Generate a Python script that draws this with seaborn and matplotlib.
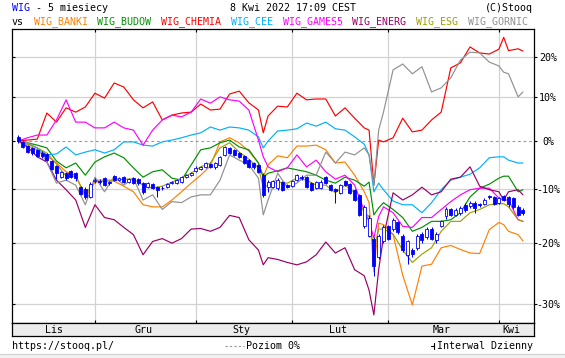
import numpy as np
import pandas as pd
import matplotlib
matplotlib.use("Agg")
import matplotlib.pyplot as plt
import matplotlib.lines as mlines
from matplotlib.patches import Rectangle
import seaborn as sns

# ---------------- data ----------------
title_main = "WIG"
title_rest = " - 5 miesiecy"
stamp = "8 Kwi 2022 17:09 CEST"
credit = "(C)Stooq"
footer_left = "https://stooq.pl/"
footer_mid = "Poziom 0%"
footer_right = "Interwal Dzienny"

series_names = ["WIG_BANKI", "WIG_BUDOW", "WIG_CHEMIA", "WIG_CEE",
                "WIG_GAMES5", "WIG_ENERG", "WIG_ESG", "WIG_GORNIC"]
series_colors = ["#FF8000", "#009000", "#FF0000", "#00B0FF",
                 "#FF00FF", "#990066", "#A0A000", "#909090"]
wig_color = "#0000FF"

first_day = "2021-11-08"
last_day = "2022-04-08"
holidays = ["2021-11-11", "2021-12-24", "2021-12-31", "2022-01-06"]
month_labels = ["Lis", "Gru", "Sty", "Lut", "Mar", "Kwi"]

y_ticks = [-30, -20, -10, 0, 10, 20]
y_tick_labels = ["-30%", "-20%", "-10%", "0%", "10%", "20%"]
y_range = [-32.8, 27.7]

# WIG daily candles (percent vs first close)
wig_open = [
    0.9, -0.2, -1.1, -1.5, -2.0, -2.6, -2.8, -4.3, -5.3, -7.6,
    -6.8, -6.3, -6.8, -9.6, -9.9, -11.5, -8.4, -8.4, -7.8, -8.6,
    -7.4, -8.2, -7.6, -8.6, -7.8, -8.0, -8.8, -9.6, -9.0, -9.6,
    -9.7, -9.6, -8.8, -8.8, -8.6, -7.6, -7.2, -6.3, -5.9, -5.5,
    -4.9, -5.5, -5.1, -3.0, -1.5, -2.0, -2.6, -3.2, -4.1, -4.7,
    -5.1, -7.2, -9.6, -9.6, -9.8, -8.6, -9.2, -9.4, -8.2, -7.6,
    -7.6, -8.8, -9.8, -9.8, -7.6, -9.2, -10.0, -10.7, -8.4, -9.0,
    -10.1, -11.1, -17.0, -18.7, -19.2, -22.4, -19.7, -17.0, -17.5, -16.3,
    -18.7, -22.1, -21.2, -20.9, -18.4, -18.9, -17.5, -19.5, -17.0, -15.2,
    -13.8, -14.9, -14.5, -13.0, -13.2, -12.6, -12.9, -12.8, -11.4, -11.5,
    -12.6, -11.3, -11.5, -11.7, -13.4, -13.9]
wig_close = [
    0.0, -1.3, -2.4, -2.6, -3.2, -3.2, -4.1, -5.9, -6.8, -6.5,
    -7.8, -7.6, -7.8, -10.9, -11.5, -9.0, -8.2, -8.6, -9.2, -8.8,
    -8.2, -7.8, -8.6, -8.0, -8.8, -8.8, -10.5, -8.8, -9.8, -10.1,
    -9.8, -9.0, -8.6, -8.2, -7.6, -7.2, -6.8, -5.7, -5.5, -4.7,
    -5.5, -4.7, -3.4, -1.3, -2.6, -3.0, -3.4, -4.7, -5.5, -5.5,
    -6.5, -11.1, -8.6, -8.4, -8.2, -10.1, -9.6, -8.4, -7.2, -7.8,
    -9.6, -10.1, -8.6, -8.6, -8.8, -10.1, -10.3, -9.2, -9.2, -10.7,
    -12.1, -14.9, -13.4, -15.4, -23.9, -18.7, -17.2, -19.2, -15.8, -18.0,
    -21.2, -19.7, -21.9, -18.7, -19.5, -17.5, -19.2, -18.4, -16.1, -13.8,
    -14.9, -13.9, -13.6, -13.9, -12.6, -13.6, -13.1, -12.1, -11.6, -12.8,
    -11.7, -12.1, -12.8, -13.4, -14.9, -14.5]
wig_high = [
    1.3, 0.0, -0.9, -1.3, -1.7, -2.2, -2.6, -4.1, -5.1, -6.3,
    -6.5, -6.1, -6.5, -9.4, -9.6, -8.6, -7.8, -8.0, -7.6, -8.4,
    -7.2, -7.6, -7.4, -7.8, -7.6, -7.8, -8.6, -8.6, -8.8, -9.4,
    -9.4, -8.8, -8.4, -8.0, -7.4, -6.9, -6.5, -5.3, -5.3, -4.5,
    -4.7, -4.5, -3.2, -1.1, -1.3, -1.7, -2.4, -3.0, -3.9, -4.5,
    -4.9, -6.8, -8.2, -8.2, -7.8, -8.4, -9.0, -8.2, -6.9, -7.2,
    -7.4, -8.6, -8.4, -8.2, -7.4, -9.0, -9.8, -9.0, -8.2, -8.8,
    -9.9, -10.9, -13.0, -15.0, -18.9, -18.4, -16.8, -16.8, -15.4, -16.0,
    -18.4, -19.4, -20.9, -18.4, -18.0, -17.2, -17.2, -18.0, -15.8, -13.4,
    -13.6, -13.6, -13.2, -12.6, -12.3, -12.3, -12.6, -11.7, -11.1, -11.3,
    -11.5, -11.1, -11.3, -11.5, -13.0, -13.6]
wig_low = [
    -0.4, -1.5, -2.6, -3.0, -3.4, -3.6, -4.3, -6.1, -8.0, -7.8,
    -8.2, -7.8, -8.4, -11.1, -11.9, -11.7, -8.8, -9.0, -9.4, -9.2,
    -8.4, -8.4, -8.8, -8.8, -9.0, -9.2, -10.9, -9.8, -10.0, -11.5,
    -10.1, -9.8, -9.0, -9.0, -8.8, -7.8, -7.4, -6.5, -6.1, -5.7,
    -5.7, -5.9, -5.3, -3.2, -2.8, -3.2, -3.6, -4.9, -5.7, -5.9,
    -6.8, -11.5, -10.5, -9.8, -10.1, -10.3, -9.8, -9.6, -8.4, -8.2,
    -9.8, -10.3, -10.0, -10.0, -9.0, -10.3, -12.6, -10.9, -9.4, -10.9,
    -12.3, -15.2, -17.3, -19.0, -25.6, -22.7, -20.0, -19.5, -17.9, -18.4,
    -21.5, -23.5, -22.4, -21.2, -19.9, -19.2, -19.5, -19.9, -17.2, -15.6,
    -15.2, -15.2, -14.9, -14.3, -13.6, -14.5, -13.4, -13.0, -11.9, -13.0,
    -12.8, -12.3, -13.4, -13.8, -15.2, -14.9]

line_idx = (list(range(0, 51, 2)) + [51] + list(range(52, 73, 2)) + [73, 74, 75]
            + list(range(76, 101, 2)) + [101, 102, 104, 105])
banki = [0.0, -1.1, -1.9, -3.2, -4.7, -6.5, -7.2, -11.5, -8.6, -8.4,
         -8.4, -9.4, -10.5, -13.0, -13.4, -13.4, -12.1, -10.5, -8.8, -7.2,
         -5.3, -0.2, 0.7, -0.4, -2.2, -4.7, -7.6, -5.1, -3.2, -3.6, -1.1,
         -1.1, -0.9, -1.9, -4.7, -4.5, -7.2, -10.5, -12.6, -24.8, -16.4, -16.7, -18.5,
         -25.4, -30.1, -23.9, -23.6, -20.8, -20.4, -21.1, -21.7, -21.8, -17.6,
         -16.3, -16.7, -17.9, -18.5, -19.6]
budow = [0.0, -0.4, -0.9, -1.5, -4.3, -5.7, -4.7, -7.2, -4.5, -3.4,
         -2.6, -3.6, -5.7, -7.6, -6.5, -6.1, -7.8, -8.2, -5.1, -1.9,
         -1.5, -0.4, 0.2, -1.3, -1.9, -4.7, -7.6, -6.8, -6.3, -5.7, -6.1,
         -6.5, -7.2, -8.2, -8.8, -7.6, -8.2, -9.4, -8.6, -14.9, -13.6, -12.6, -13.9,
         -15.4, -17.9, -17.2, -16.1, -16.1, -15.8, -14.5, -11.5, -9.8, -9.0,
         -7.8, -7.4, -7.4, -10.5, -10.1]
chemia = [0.0, 0.2, 0.4, 6.3, 4.2, 7.5, 6.5, 7.7, 11.0, 9.8,
          13.5, 12.5, 9.4, 7.5, 8.9, 4.7, 5.8, 6.3, 6.5, 8.4,
          7.0, 7.2, 10.8, 11.5, 8.7, 7.0, 1.8, 5.6, 7.9, 7.7, 11.0,
          9.4, 9.6, 9.6, 5.6, 7.5, 5.1, 2.9, 2.4, -9.2, 0.2, -0.2, 0.7,
          5.1, 2.0, 2.4, 4.7, 6.5, 17.3, 18.6, 22.8, 21.2, 20.9,
          22.2, 25.4, 21.8, 22.3, 21.7]
cee = [0.0, -0.7, -1.5, -3.0, -2.8, -1.3, -3.0, -2.4, -1.9, -2.6,
       -1.9, -0.2, -0.2, -0.9, -1.1, -0.2, 0.2, 0.7, 1.3, 1.8,
       3.1, 2.4, 3.1, 2.9, 2.4, 0.9, -1.5, 0.0, 2.2, 2.4, 2.7,
       4.0, 3.3, 4.2, 2.7, 2.4, 0.9, -0.7, -3.0, -10.5, -8.8, -10.1, -12.3,
       -13.0, -13.0, -14.5, -12.6, -10.1, -8.2, -7.6, -7.0, -5.7, -3.6,
       -3.4, -3.4, -4.1, -4.7, -4.7]
games5 = [0.0, 0.7, 1.3, 1.3, 4.7, 9.4, 4.2, 4.2, 2.9, 2.9,
          4.2, 2.9, 2.4, -0.9, 2.4, 4.7, 5.8, 5.4, 6.5, 9.6,
          8.6, 10.1, 9.4, 9.1, 7.0, 0.2, -3.4, -5.5, -6.5, -5.7, -3.0,
          -5.5, -4.1, -6.5, -8.0, -7.2, -9.2, -14.1, -16.1, -19.1, -15.2, -13.4, -14.5,
          -17.0, -17.2, -15.4, -15.4, -13.9, -12.4, -11.1, -10.1, -9.8, -9.8,
          -11.7, -12.1, -12.1, -15.8, -16.1]
energ = [0.0, -1.3, -3.4, -4.5, -8.2, -10.1, -12.1, -17.2, -13.0, -15.4,
         -15.8, -17.2, -18.5, -22.0, -19.7, -19.2, -20.0, -19.2, -17.5, -17.4,
         -17.9, -17.2, -15.0, -15.4, -19.4, -21.2, -23.7, -22.5, -22.8, -23.3, -23.7,
         -23.2, -22.0, -19.8, -21.7, -20.8, -24.5, -25.5, -27.8, -31.6, -24.5, -18.9, -10.7,
         -12.1, -11.1, -9.6, -11.1, -10.5, -8.0, -7.6, -5.5, -9.4, -10.1,
         -10.5, -12.1, -10.5, -10.1, -11.1]
esg = [0.0, -0.7, -1.5, -2.6, -4.9, -7.4, -7.4, -11.1, -8.2, -8.2,
       -8.2, -8.0, -8.0, -9.2, -9.8, -9.4, -8.6, -7.8, -6.8, -5.5,
       -4.7, -1.5, -0.4, -2.4, -3.9, -5.7, -9.6, -9.2, -8.6, -8.8, -7.8,
       -8.2, -9.2, -9.2, -10.7, -9.2, -10.7, -14.5, -15.2, -21.2, -17.5, -17.5, -18.4,
       -21.2, -23.3, -21.9, -20.8, -17.9, -16.1, -16.1, -14.5, -13.9, -13.0,
       -12.8, -12.8, -13.4, -15.8, -16.1]
gornic = [0.0, -0.4, -1.5, -4.5, -8.8, -8.2, -9.2, -13.0, -7.6, -10.5,
          -7.4, -9.2, -7.8, -12.1, -11.1, -13.9, -12.4, -12.6, -11.5, -11.1,
          -11.1, -8.2, -3.0, -4.1, -5.1, -7.8, -14.9, -12.1, -6.8, -9.6, -8.8,
          -7.2, -7.2, -2.4, -4.7, -2.4, -3.0, -1.5, -3.0, -9.2, 2.4, 6.5, 16.8,
          18.3, 15.8, 17.6, 11.3, 12.3, 14.8, 19.3, 21.4, 21.2, 18.8,
          17.8, 16.2, 15.8, 10.1, 11.3]
series_values = [banki, budow, chemia, cee, games5, energ, esg, gornic]

# ---------------- derived tables ----------------
dates = pd.bdate_range(first_day, last_day)
dates = dates[~dates.isin(pd.to_datetime(holidays))]
n = len(dates)
idx = np.arange(n)
month_starts = [i for i in range(1, n) if dates[i].month != dates[i - 1].month]
bounds = [0] + month_starts + [n]
month_mids = [(bounds[k] + bounds[k + 1] - 1) / 2 for k in range(len(bounds) - 1)]

long_df = pd.concat(
    [pd.DataFrame({"idx": line_idx, "pct": vals, "series": name})
     for name, vals in zip(series_names, series_values)],
    ignore_index=True)
palette = dict(zip(series_names, series_colors))

# ---------------- figure ----------------
sns.set_style("white")
plt.rcParams["font.family"] = ["DejaVu Sans Mono"]
FS = 7.2
W, H = 565, 358
fig = plt.figure(figsize=(W / 100, H / 100), dpi=100)
fig.patch.set_facecolor("white")


def fx(x):
    return x / W


def fy(y):
    return 1 - y / H


ax = fig.add_axes([fx(12), fy(323), (534 - 12) / W, (323 - 29) / H])
strip = fig.add_axes([fx(12), fy(336), (534 - 12) / W, (336 - 323) / H], sharex=ax)

ax.set_yscale("function", functions=(lambda p: np.log1p(np.asarray(p) / 100.0),
                                     lambda v: np.expm1(np.asarray(v)) * 100.0))
ax.set_facecolor("white")

# grid
for v in y_ticks:
    if v != 0:
        ax.axhline(v, color="#d2d2d2", lw=0.9, zorder=0)
for m in month_starts:
    ax.axvline(m, color="#d2d2d2", lw=0.9, zorder=0)
ax.axhline(0, color="#999999", lw=0.8, dashes=(2.5, 2.5), zorder=0.5)

# comparison lines
sns.lineplot(data=long_df, x="idx", y="pct", hue="series", hue_order=series_names,
             palette=palette, linewidth=0.85, legend=False, ax=ax, zorder=2,
             estimator=None)

# WIG candles
o = np.array(wig_open)
c = np.array(wig_close)
up = c >= o
ax.vlines(idx, wig_low, wig_high, color=wig_color, lw=0.75, zorder=3)
ax.bar(idx, c - o, bottom=o, width=0.62,
       color=np.where(up, "white", wig_color), edgecolor=wig_color,
       linewidth=0.6, zorder=4)

ax.set_xlim(-1.25, 107.3)
ax.set_ylim(*y_range)
ax.set_xlabel("")
ax.set_ylabel("")

# axes decoration
for s in ax.spines.values():
    s.set_color("black")
    s.set_linewidth(0.9)
ax.set_yticks(y_ticks)
ax.set_yticklabels(y_tick_labels)
ax.yaxis.set_minor_locator(matplotlib.ticker.NullLocator())
ax.tick_params(axis="y", left=True, right=True, labelleft=False, labelright=True,
               direction="out", length=2.5, width=0.8, colors="black",
               labelsize=FS, pad=7.5)
for lbl in ax.get_yticklabels():
    lbl.set_ha("center")
for t in ax.yaxis.get_major_ticks():
    t.tick1line.set_marker(mlines.TICKRIGHT)
ax.set_xticks(month_starts)
ax.tick_params(axis="x", top=True, bottom=True, labelbottom=False, labeltop=False,
               direction="in", length=2.5, width=0.8, colors="black")

# month strip
strip.set_facecolor("#ececec")
for s in strip.spines.values():
    s.set_color("black")
    s.set_linewidth(0.9)
strip.tick_params(axis="both", which="both", bottom=False, top=False, left=False,
                  right=False, labelbottom=False, labelleft=False)
strip.set_yticks([])
for mid, lab in zip(month_mids, month_labels):
    strip.text(mid, 0.45, lab, transform=strip.get_xaxis_transform(),
               ha="center", va="center", fontsize=FS, color="black")

# header
fig.text(fx(12), fy(8), title_main, color=wig_color, fontsize=FS,
         ha="left", va="center")
fig.text(fx(12 + 3 * 5.95), fy(8), title_rest, color="black", fontsize=FS,
         ha="left", va="center")
fig.text(fx(293), fy(8), stamp, color="black", fontsize=FS, ha="center", va="center")
fig.text(fx(533), fy(8), credit, color="black", fontsize=FS, ha="right", va="center")
fig.text(fx(12), fy(22), "vs", color="black", fontsize=FS, ha="left", va="center")
name_x = [34, 97, 161, 231, 283, 352.5, 416.5, 468]
for xx, name, col in zip(name_x, series_names, series_colors):
    fig.text(fx(xx), fy(22), name, color=col, fontsize=FS, ha="left", va="center")

# footer
fig.text(fx(12), fy(346), footer_left, color="black", fontsize=FS, ha="left", va="center")
fig.add_artist(mlines.Line2D([fx(225), fx(244)], [fy(346), fy(346)], color="#999999",
                             lw=0.8, dashes=(2.0, 2.0), transform=fig.transFigure))
fig.text(fx(246), fy(346), footer_mid, color="black", fontsize=FS, ha="left", va="center")
fig.text(fx(533), fy(346), footer_right, color="black", fontsize=FS, ha="right", va="center")
fig.add_artist(mlines.Line2D([fx(431), fx(434)], [fy(346), fy(346)], color="black",
                             lw=0.8, transform=fig.transFigure))
fig.add_artist(mlines.Line2D([fx(434), fx(434)], [fy(343), fy(349)], color="black",
                             lw=0.8, transform=fig.transFigure))

# bottom band
fig.add_artist(Rectangle((0, 0), 1, 4 / H, transform=fig.transFigure,
                         facecolor="#f2f2f2", edgecolor="none"))
fig.add_artist(mlines.Line2D([0, 1], [4 / H, 4 / H], color="#d0d0d0", lw=0.8,
                             transform=fig.transFigure))

fig.savefig("out.png", dpi=100)
